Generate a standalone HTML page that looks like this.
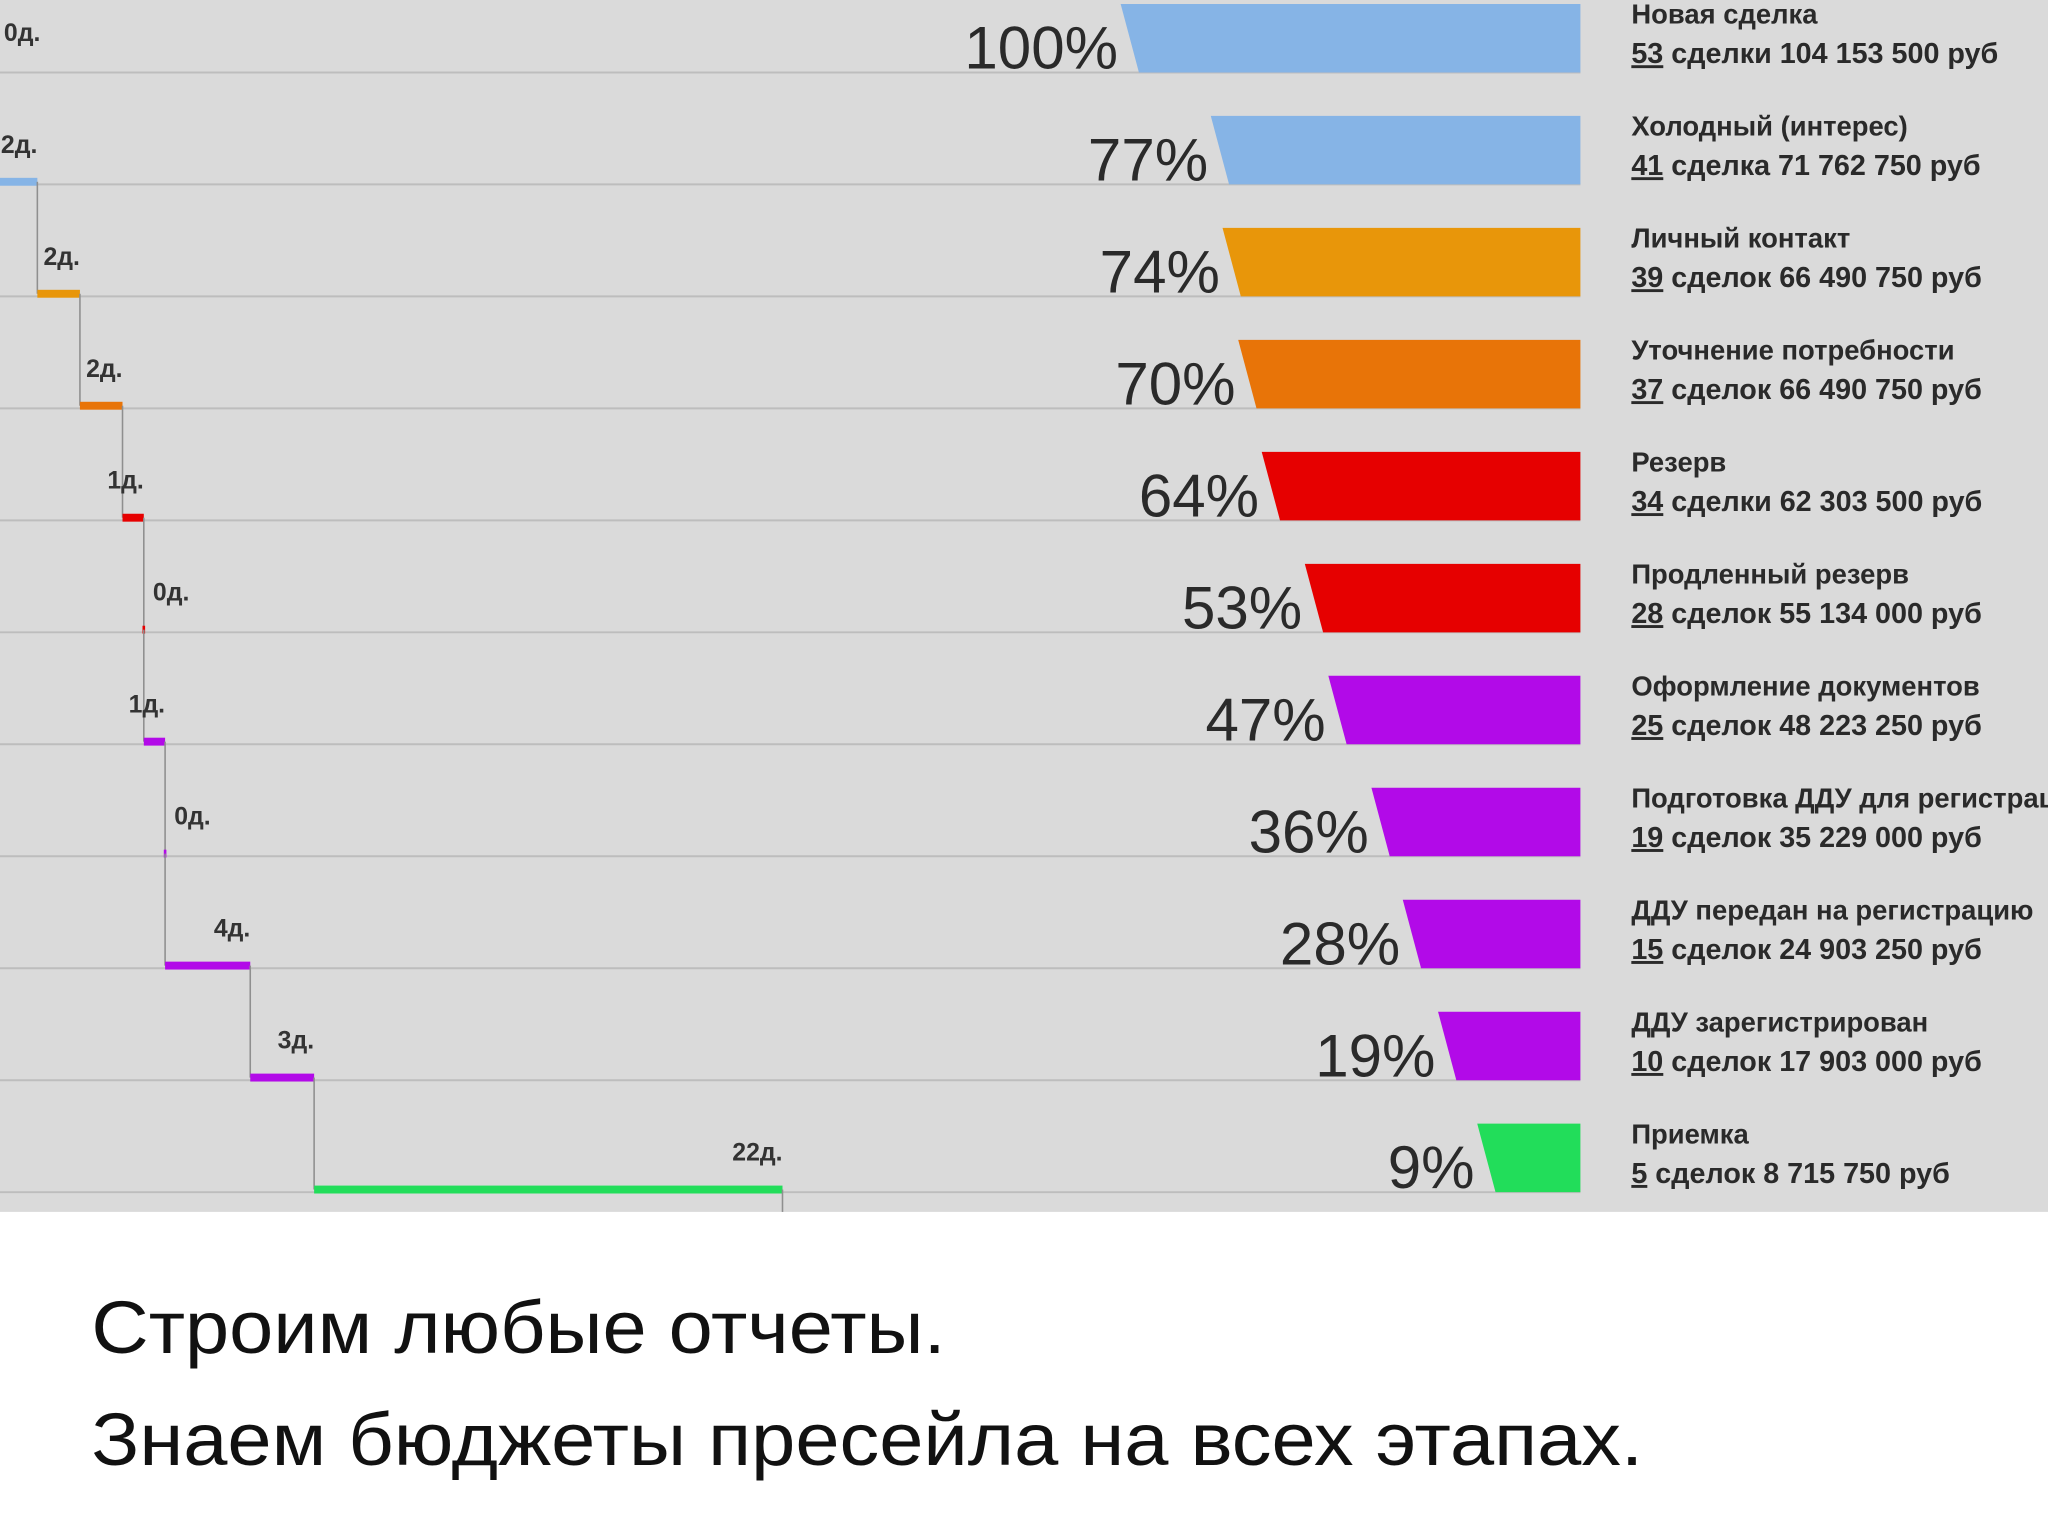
<!DOCTYPE html>
<html><head><meta charset="utf-8"><style>
html,body{margin:0;padding:0;background:#fff;}
svg{display:block;}
</style></head><body>
<svg id="chart" width="2048" height="1536" viewBox="0 0 1568 1166" preserveAspectRatio="none" xmlns="http://www.w3.org/2000/svg">
<rect x="0" y="0" width="1568" height="920" fill="#dadada"/>
<rect x="0" y="920" width="1568" height="246" fill="#ffffff"/>
<g id="rows"></g>
<g id="timeline"></g>
<text x="70" y="1027" font-family="Liberation Sans, sans-serif" font-size="56" fill="#111" textLength="654" lengthAdjust="spacingAndGlyphs">Строим любые отчеты.</text>
<text x="70" y="1112" font-family="Liberation Sans, sans-serif" font-size="56" fill="#111" textLength="1188" lengthAdjust="spacingAndGlyphs">Знаем бюджеты пресейла на всех этапах.</text>
</svg>
<script>
const stages = ["Новая сделка","Холодный (интерес)","Личный контакт","Уточнение потребности","Резерв","Продленный резерв","Оформление документов","Подготовка ДДУ для регистрации","ДДУ передан на регистрацию","ДДУ зарегистрирован","Приемка"];
const percents = [100,77,74,70,64,53,47,36,28,19,9];
const dealCounts = [53,41,39,37,34,28,25,19,15,10,5];
const dealWords = ["сделки","сделка","сделок","сделок","сделки","сделок","сделок","сделок","сделок","сделок","сделок"];
const budgets = ["104 153 500","71 762 750","66 490 750","66 490 750","62 303 500","55 134 000","48 223 250","35 229 000","24 903 250","17 903 000","8 715 750"];
const days = [0,2,2,2,1,0,1,0,4,3,22];
const colors = ["#86b4e6","#86b4e6","#e8960a","#e87408","#e60000","#e60000","#b20ae8","#b20ae8","#b20ae8","#b20ae8","#22dd5a"];

const NS = "http://www.w3.org/2000/svg";
const rowY = i => 3 + 85*i;
const lineY = i => 55 + 85*i;
const barRight = 1210;
const barW = p => 52 + 3*p;
const dayX = d => -4 + 16.3*d;
function mk(tag, attrs, parent){const e=document.createElementNS(NS,tag);for(const k in attrs)e.setAttribute(k,attrs[k]);parent.appendChild(e);return e;}
const rows = document.getElementById('rows');
const tl = document.getElementById('timeline');

stages.forEach((s,i)=>{
  const ln = mk('line',{x1:0,x2:barRight,y1:lineY(i),y2:lineY(i),stroke:'#bdbdbd','stroke-width':1.5},rows);
  
  
  const w = barW(percents[i]);
  const xl = barRight - w, yt = rowY(i), yb = lineY(i);
  const bar = mk('polygon',{points:`${xl},${yt} ${barRight},${yt} ${barRight},${yb} ${xl+14},${yb}`,fill:colors[i]},rows);
  
  
  const pt = mk('text',{x:xl-2,y:yt+49,'text-anchor':'end','font-family':'Liberation Sans, sans-serif','font-size':46,fill:'#2a2a2a'},rows);
  pt.textContent = percents[i]+'%';
  
  
  const nm = mk('text',{x:1249,y:yt+15,'font-family':'Liberation Sans, sans-serif','font-size':21,'font-weight':'bold',fill:'#2a2a2a'},rows);
  nm.textContent = s;
  
  
  const dt = mk('text',{x:1249,y:yt+45,'font-family':'Liberation Sans, sans-serif','font-size':22,'font-weight':'bold',fill:'#2a2a2a'},rows);
  
  
  const cnt = mk('tspan',{'text-decoration':'underline'},dt);
  cnt.textContent = dealCounts[i];
  
  
  const rest = mk('tspan',{},dt);
  rest.textContent = ' '+dealWords[i]+' '+budgets[i]+' руб';
});

let cum = 0;
days.forEach((d,i)=>{
  const x0 = dayX(cum); cum += d; const x1 = dayX(cum);
  const y = lineY(i) - 2;
  if (d>0){
    const seg = mk('rect',{x:x0,y:y-3,width:x1-x0,height:6,fill:colors[i]},tl);
    
    
  } else if (i>0){
    const seg = mk('rect',{x:x1-1,y:y-3,width:2,height:6,fill:colors[i]},tl);
    
    
  }
  const yNext = i < days.length-1 ? lineY(i+1)-2 : 920;
  const v = mk('line',{x1:x1,x2:x1,y1:y,y2:yNext,stroke:'#8f8f8f','stroke-width':1.2},tl);
  
  
  const lbl = mk('text',{x: d===0 ? x1+7 : x1, y: y-22,'text-anchor': d===0?'start':'end','font-family':'Liberation Sans, sans-serif','font-size':19,'font-weight':'bold',fill:'#333'},tl);
  lbl.textContent = d+'д.';
  
  
});
</script>
</body></html>
